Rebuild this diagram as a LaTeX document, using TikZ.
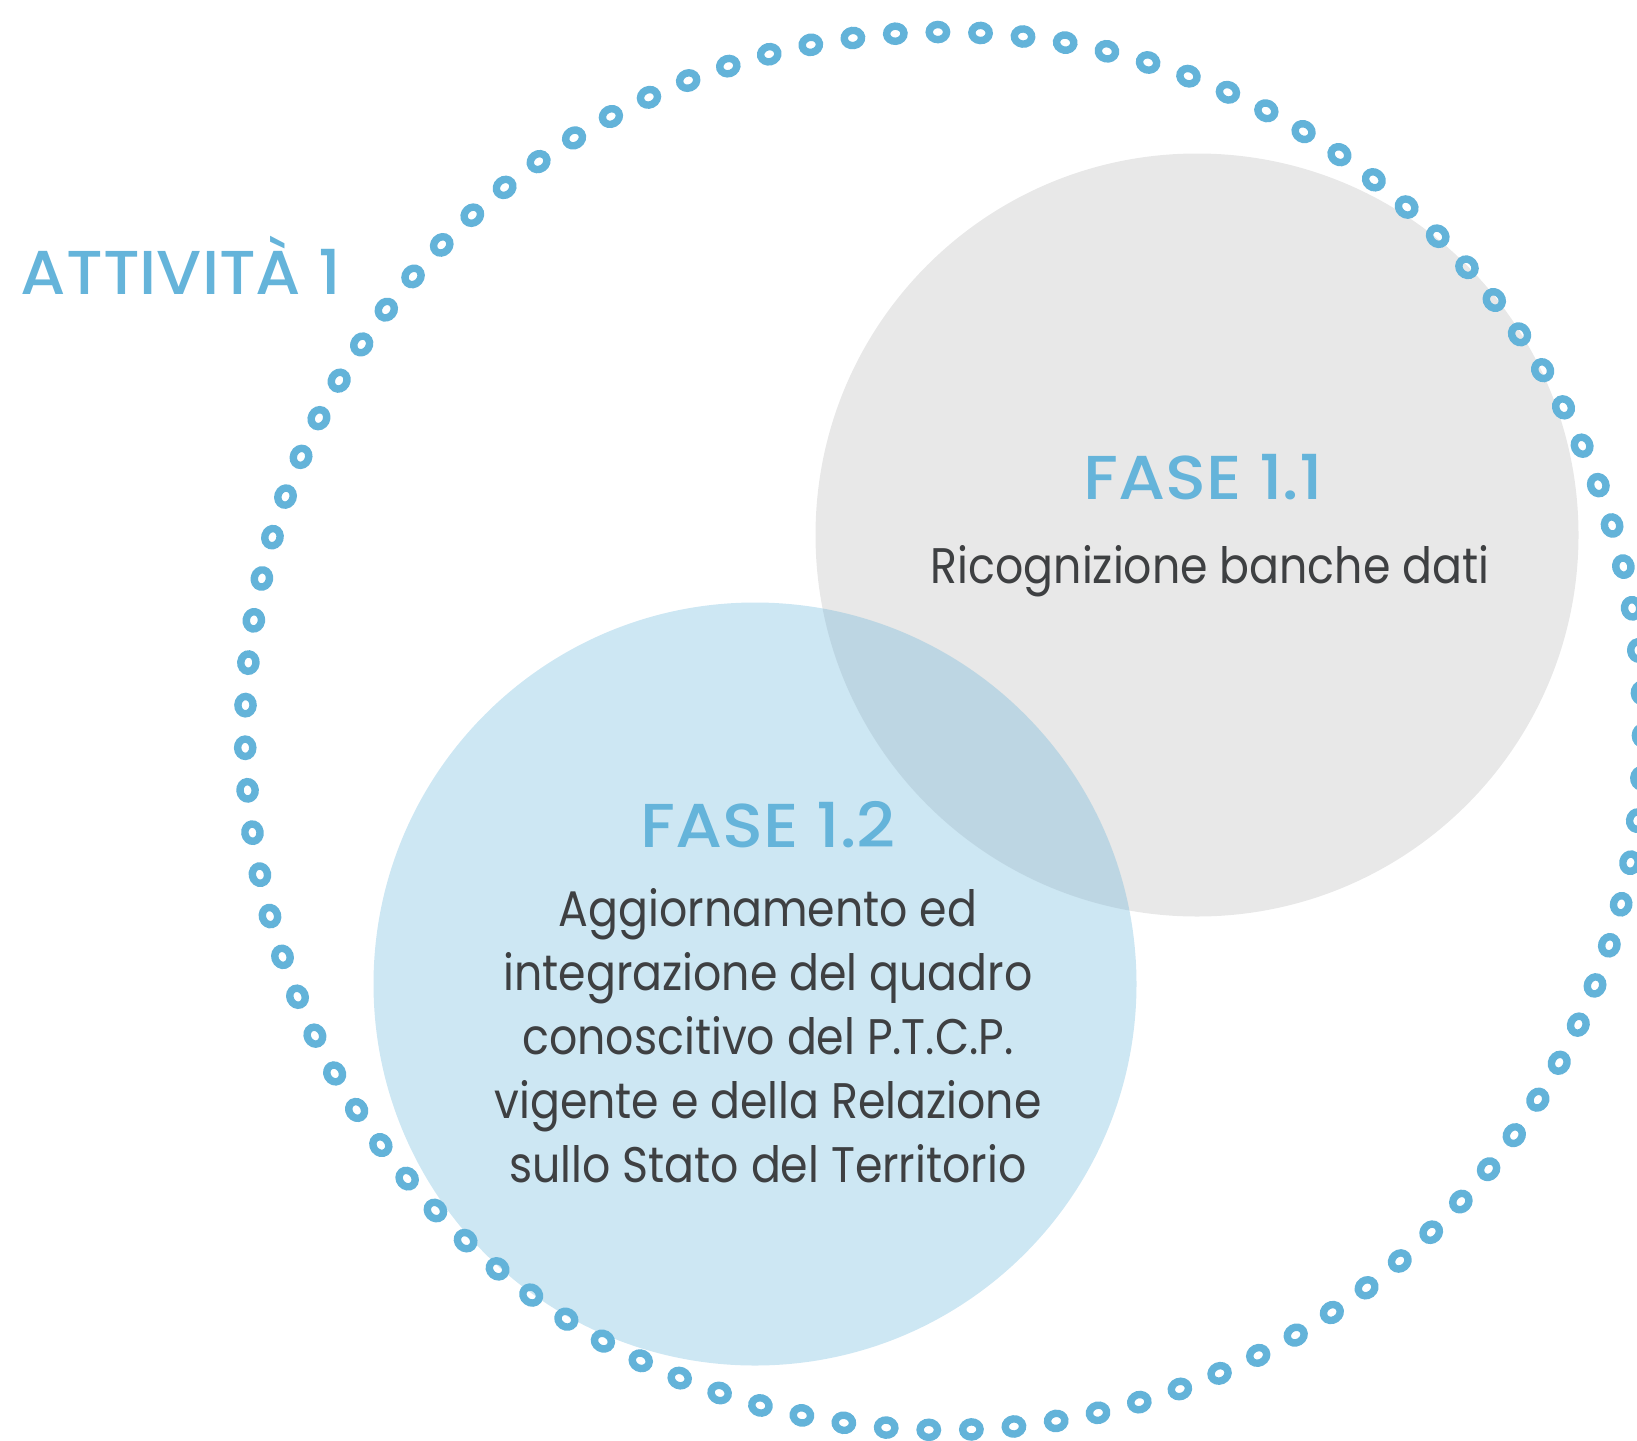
\documentclass[tikz,border=0pt]{standalone}
\usepackage{fontspec}
\setmainfont{Poppins}
\newfontfamily\headfont{Poppins Medium}
\definecolor{ringblue}{RGB}{99,179,217}
\definecolor{headblue}{RGB}{101,180,218}
\definecolor{circgray}{RGB}{232,232,232}
\definecolor{textdark}{RGB}{62,64,66}
\newcommand{\hd}[1]{\scalebox{1.09}[1]{#1}}
\newcommand{\bd}[1]{\scalebox{0.885}[1]{#1}}
\tikzset{
  ring/.style={draw=ringblue, line width=7.4pt},
  headtext/.style={anchor=base, text=headblue, inner sep=0pt, font=\headfont\fontsize{62}{62}\selectfont},
  bodytext/.style={anchor=base, text=textdark, inner sep=0pt, font=\fontsize{50}{64}\selectfont},
}
\begin{document}
\begin{tikzpicture}[x=1pt,y=-1pt]
\useasboundingbox (0,0) rectangle (1637,1440);
% gray circle (Fase 1.1)
\node[circle, fill=circgray, minimum size=763pt, inner sep=0pt] (gray) at (1197,535) {};
% blue circle (Fase 1.2), translucent
\node[circle, fill=ringblue, fill opacity=0.32, minimum size=763pt, inner sep=0pt] (blue) at (755,984) {};
% dotted ring of small circles
\foreach \i in {0,...,102}{
  \pgfmathsetmacro{\ang}{90.5+\i*(360/103)}
  \pgfmathsetmacro{\cx}{944+699*cos(\ang)}
  \pgfmathsetmacro{\cy}{731-699*sin(\ang)}
  \draw[ring, shift={(\cx,\cy)}, rotate=\ang] (0,0) ellipse [x radius=7.6pt, y radius=8.7pt];
}
% texts
\node[headtext] (att) at (181,294) {\scalebox{1.05}[1]{ATTIVITÀ 1}};
\node[headtext] (f11) at (1203,499) {\hd{FASE 1.1}};
\node[bodytext] (f11t) at (1210,583) {\bd{Ricognizione banche dati}};
\node[headtext] (f12) at (768,847) {\hd{FASE 1.2}};
\node[bodytext] (l1) at (768,926) {\bd{Aggiornamento ed}};
\node[bodytext] (l2) at (768,990) {\bd{integrazione del quadro}};
\node[bodytext] (l3) at (768,1054) {\bd{conoscitivo del P.T.C.P.}};
\node[bodytext] (l4) at (768,1118) {\bd{vigente e della Relazione}};
\node[bodytext] (l5) at (768,1182) {\bd{sullo Stato del Territorio}};
\end{tikzpicture}
\end{document}
